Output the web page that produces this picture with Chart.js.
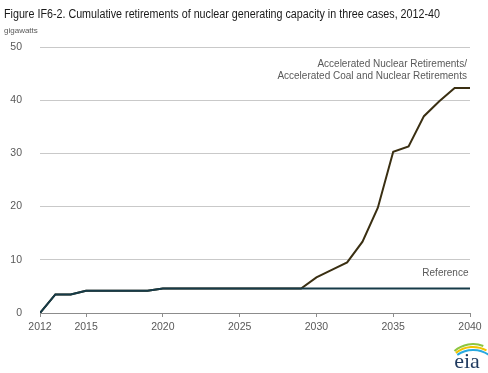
<!DOCTYPE html>
<html>
<head>
<meta charset="utf-8">
<script src="https://cdn.jsdelivr.net/npm/chart.js@4"></script>
<style>
  html, body { margin: 0; padding: 0; background: #fff; }
  #wrap { width: 488px; height: 373px; position: relative; }
</style>
</head>
<body>
<div id="wrap"><canvas id="myChart" width="488" height="373"></canvas></div>
<script>
const years = [2012, 2013, 2014, 2015, 2016, 2017, 2018, 2019, 2020, 2021,
  2022, 2023, 2024, 2025, 2026, 2027, 2028, 2029, 2030, 2031,
  2032, 2033, 2034, 2035, 2036, 2037, 2038, 2039, 2040];

const reference = [0, 3.5, 3.5, 4.2, 4.2, 4.2, 4.2, 4.2, 4.6, 4.6,
  4.6, 4.6, 4.6, 4.6, 4.6, 4.6, 4.6, 4.6, 4.6, 4.6,
  4.6, 4.6, 4.6, 4.6, 4.6, 4.6, 4.6, 4.6, 4.6];

const accelerated = [0, 3.5, 3.5, 4.2, 4.2, 4.2, 4.2, 4.2, 4.6, 4.6,
  4.6, 4.6, 4.6, 4.6, 4.6, 4.6, 4.6, 4.6, 6.7, 8.1,
  9.5, 13.4, 19.8, 30.3, 31.3, 37.0, 39.8, 42.3, 42.3];

const xTicks = [2012, 2015, 2020, 2025, 2030, 2035, 2040];
const yTicks = [0, 10, 20, 30, 40, 50];

const title = "Figure IF6-2. Cumulative retirements of nuclear generating capacity in three cases, 2012-40";
const unitLabel = "gigawatts";
const accelLabel = ["Accelerated Nuclear Retirements/", "Accelerated Coal and Nuclear Retirements"];
const refLabel = "Reference";

const textGray = "#595959";
const font = "'Liberation Sans', Arial, sans-serif";

function toPoints(values) {
  return years.map((yr, i) => ({ x: yr, y: values[i] }));
}

// titles, in-plot labels and the eia mark
const labelsPlugin = {
  id: "labels",
  afterDraw(chart) {
    const ctx = chart.ctx;
    const x = chart.scales.x;
    const y = chart.scales.y;
    ctx.save();
    ctx.textBaseline = "alphabetic";
    ctx.fillStyle = "#1a1a1a";
    ctx.font = "12px " + font;
    ctx.textAlign = "left";
    // title in the original is set a bit narrow, squeeze it to its width
    const w = ctx.measureText(title).width;
    ctx.save();
    ctx.translate(4, 18);
    ctx.scale(436 / w, 1);
    ctx.fillText(title, 0, 0);
    ctx.restore();

    ctx.fillStyle = textGray;
    ctx.font = "8px " + font;
    ctx.fillText(unitLabel, 4, 33);

    ctx.font = "10px " + font;
    ctx.textAlign = "right";
    ctx.fillText(accelLabel[0], x.getPixelForValue(2039.8), 67);
    ctx.fillText(accelLabel[1], x.getPixelForValue(2039.8), 79);
    ctx.fillText(refLabel, x.getPixelForValue(2039.9), y.getPixelForValue(6.9));

    // eia logo
    const lx = 467, ly = 360;
    ctx.lineWidth = 2;
    ctx.strokeStyle = "#8dc63f";
    ctx.beginPath();
    ctx.arc(lx + 6, ly + 12, 28, Math.PI * 1.27, Math.PI * 1.62);
    ctx.stroke();
    ctx.strokeStyle = "#f2c400";
    ctx.beginPath();
    ctx.arc(lx + 6, ly + 15, 28, Math.PI * 1.29, Math.PI * 1.66);
    ctx.stroke();
    ctx.strokeStyle = "#29a9e0";
    ctx.beginPath();
    ctx.arc(lx + 6, ly + 18, 28, Math.PI * 1.31, Math.PI * 1.7);
    ctx.stroke();
    ctx.fillStyle = "#1f3a5f";
    ctx.font = "22px 'Liberation Serif', 'DejaVu Serif', serif";
    ctx.textAlign = "center";
    ctx.fillText("eia", lx, ly + 8);
    ctx.restore();
  }
};

function initChart(chart) {
  const data = {
    datasets: [
      {
        label: "Reference",
        data: toPoints(reference),
        borderColor: "#163b48",
        borderWidth: 2,
        pointRadius: 0,
        tension: 0,
      },
      {
        label: "Accelerated",
        data: toPoints(accelerated),
        borderColor: "#3a2f12",
        borderWidth: 2,
        pointRadius: 0,
        tension: 0,
      },
    ],
  };

  const config = {
    type: "line",
    data: data,
    options: {
      responsive: false,
      animation: false,
      layout: { padding: { left: 0, right: 18, top: 47, bottom: 40 } },
      plugins: {
        legend: { display: false },
        tooltip: { enabled: false },
        title: { display: false },
      },
      scales: {
        x: {
          type: "linear",
          min: 2012,
          max: 2040,
          afterBuildTicks: (scale) => {
            scale.ticks = xTicks.map((v) => ({ value: v }));
          },
          afterFit: (scale) => { scale.height = 20; },
          grid: {
            drawOnChartArea: false,
            drawTicks: true,
            tickLength: 4,
            color: "#8c8c8c",
          },
          border: { display: true, color: "#8c8c8c", width: 1 },
          ticks: {
            color: textGray,
            font: { size: 10.5, family: font },
            padding: 4,
            maxRotation: 0,
            autoSkip: false,
            callback: (v) => String(v),
          },
        },
        y: {
          min: 0,
          max: 50,
          afterBuildTicks: (scale) => {
            scale.ticks = yTicks.map((v) => ({ value: v }));
          },
          afterFit: (scale) => { scale.width = 40; },
          grid: {
            drawTicks: false,
            color: (c) => (c.tick.value === 0 ? "rgba(0,0,0,0)" : "#c9c9c9"),
            lineWidth: 1,
          },
          border: { display: false },
          ticks: {
            color: textGray,
            font: { size: 10.5, family: font },
            padding: 18,
          },
        },
      },
    },
    plugins: [labelsPlugin],
  };

  return new Chart(chart, config);
}

document.addEventListener("DOMContentLoaded", () => {
  initChart(document.querySelector("#myChart"));
});
</script>
</body>
</html>
